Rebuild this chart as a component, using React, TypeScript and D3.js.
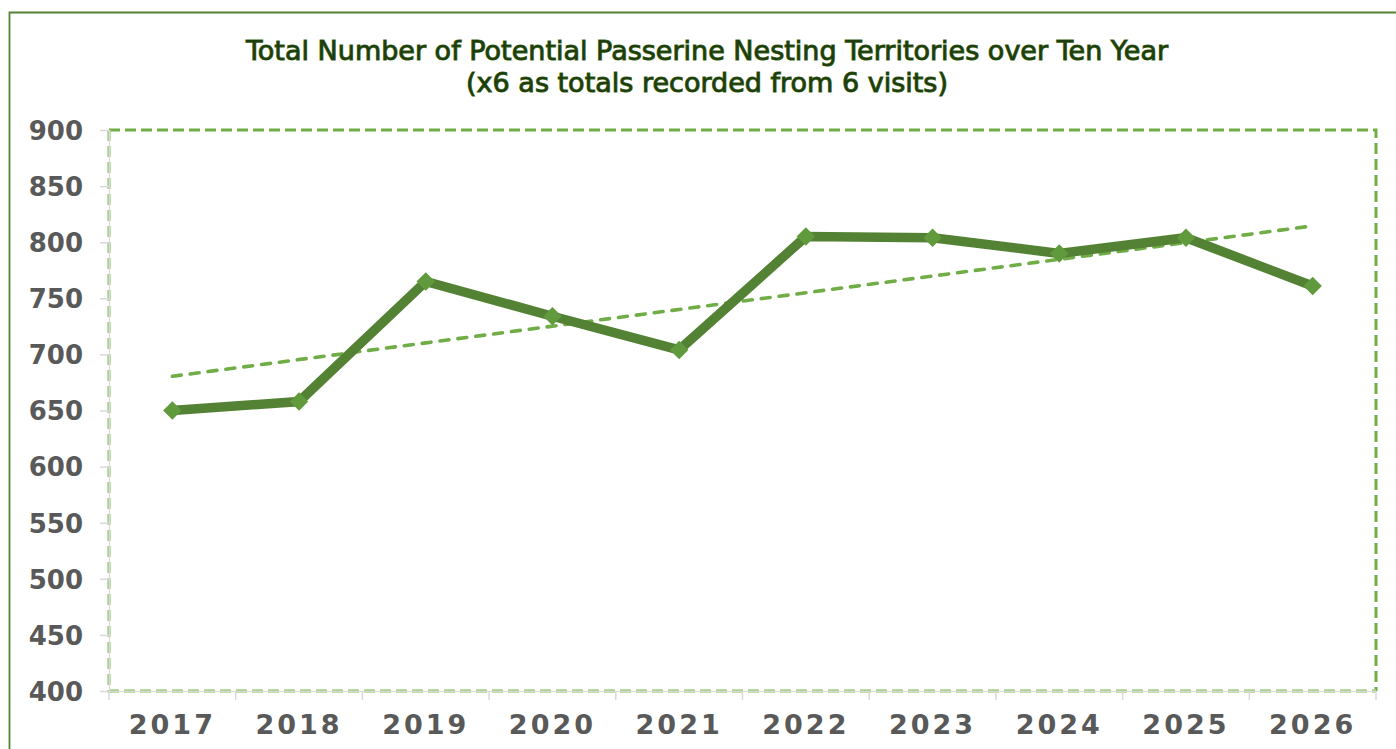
import { useEffect, useRef } from 'react';
import * as d3 from 'd3';

// years along the bottom
const years = ['2017', '2018', '2019', '2020', '2021', '2022', '2023', '2024', '2025', '2026'];
// territories (x6)
const territories = [650, 658, 765, 734, 704, 805, 804, 790, 804, 761];
const yTicks = [400, 450, 500, 550, 600, 650, 700, 750, 800, 850, 900];
const titleLines = [
  'Total Number of Potential Passerine Nesting Territories over Ten Year',
  '(x6 as totals recorded from 6 visits)',
];

const W = 1396;
const H = 749;
const plot = { left: 109, right: 1376, top: 130, bottom: 691 };

const App = () => {
  const ref = useRef<SVGSVGElement>(null);

  useEffect(() => {
    const svg = d3.select(ref.current);
    svg.selectAll('*').remove();

    const x = d3.scaleBand().domain(years).range([plot.left, plot.right]);
    const y = d3.scaleLinear().domain([400, 900]).range([plot.bottom, plot.top]);
    const cx = (d: string) => (x(d) as number) + x.bandwidth() / 2;

    // outer chart border (cut off at the right / bottom)
    svg
      .append('path')
      .attr('d', `M9.5,${H + 5} V12.5 H${W + 5}`)
      .attr('fill', 'none')
      .attr('stroke', '#548235')
      .attr('stroke-width', 1.8);

    // title
    const title = svg
      .append('text')
      .attr('text-anchor', 'middle')
      .style('font-family', '"DejaVu Sans", Verdana, sans-serif')
      .style('font-size', '27px')
      .attr('fill', '#1e3d0c')
      .attr('stroke', '#3f6b22')
      .attr('stroke-width', 1.1)
      .attr('paint-order', 'stroke');
    titleLines.forEach((t, i) => {
      title
        .append('tspan')
        .attr('x', 707)
        .attr('y', 60 + i * 32)
        .text(t);
    });

    // plot area dashed frame, top and right
    svg
      .append('path')
      .attr('d', `M${plot.left},${plot.top} H${plot.right} V${plot.bottom}`)
      .attr('fill', 'none')
      .attr('stroke', '#70ad47')
      .attr('stroke-width', 3)
      .attr('stroke-dasharray', '11 5');
    // left and bottom, lighter under the axis lines
    svg
      .append('path')
      .attr('d', `M${plot.left},${plot.top} V${plot.bottom} H${plot.right}`)
      .attr('fill', 'none')
      .attr('stroke', '#a9d18e')
      .attr('stroke-width', 3.5)
      .attr('stroke-dasharray', '11 5');

    // y axis
    const yAxis = svg
      .append('g')
      .attr('transform', `translate(${plot.left},0)`)
      .call(d3.axisLeft(y).tickValues(yTicks).tickSize(9).tickPadding(17).tickFormat(d3.format('d')));
    yAxis.select('.domain').attr('stroke', '#d9d9d9').attr('stroke-width', 1.2);
    yAxis.selectAll('.tick line').attr('stroke', '#d9d9d9').attr('stroke-width', 1.5);
    yAxis
      .selectAll('.tick text')
      .attr('fill', '#595959')
      .attr('dy', '0.36em')
      .style('font-family', '"DejaVu Sans", Verdana, sans-serif')
      .style('font-size', '26px')
      .style('font-weight', 'bold');

    // x axis
    const xAxis = svg
      .append('g')
      .attr('transform', `translate(0,${plot.bottom})`)
      .call(d3.axisBottom(x).tickSize(0).tickPadding(24));
    xAxis.select('.domain').attr('stroke', '#d9d9d9').attr('stroke-width', 1.2);
    xAxis
      .selectAll('.tick text')
      .attr('fill', '#595959')
      .attr('dy', '0.71em')
      .attr('y', 24)
      .style('font-family', '"DejaVu Sans", Verdana, sans-serif')
      .style('font-size', '27px')
      .style('font-weight', 'bold')
      .style('letter-spacing', '3px');
    // tick marks between the categories
    xAxis
      .selectAll('.bound')
      .data([...years.map((d) => x(d) as number), plot.right])
      .join('line')
      .attr('x1', (d) => d)
      .attr('x2', (d) => d)
      .attr('y1', 0)
      .attr('y2', 9)
      .attr('stroke', '#d9d9d9')
      .attr('stroke-width', 1.5);

    // linear trend
    const xs = years.map((_, i) => i);
    const mx = d3.mean(xs) as number;
    const my = d3.mean(territories) as number;
    const slope =
      (d3.sum(xs, (v, i) => (v - mx) * (territories[i] - my)) as number) /
      (d3.sum(xs, (v) => (v - mx) ** 2) as number);
    const fit = (i: number) => my + slope * (i - mx);
    svg
      .append('line')
      .attr('x1', cx(years[0]))
      .attr('y1', y(fit(0)))
      .attr('x2', cx(years[years.length - 1]))
      .attr('y2', y(fit(years.length - 1)))
      .attr('stroke', '#70ad47')
      .attr('stroke-width', 3.6)
      .attr('stroke-linecap', 'round')
      .attr('stroke-dasharray', '9 9');

    // series line
    const line = d3
      .line<number>()
      .x((_, i) => cx(years[i]))
      .y((d) => y(d));
    svg
      .append('path')
      .datum(territories)
      .attr('d', line)
      .attr('fill', 'none')
      .attr('stroke', '#548235')
      .attr('stroke-width', 9.5)
      .attr('stroke-linejoin', 'miter');

    // diamond markers
    svg
      .selectAll('.marker')
      .data(territories)
      .join('path')
      .attr('d', d3.symbol(d3.symbolSquare, 170))
      .attr('transform', (d, i) => `translate(${cx(years[i])},${y(d)}) rotate(45)`)
      .attr('fill', '#609a3c');
  }, []);

  return (
    <svg
      ref={ref}
      width={W}
      height={H}
      style={{ position: 'absolute', left: 0, top: 0, background: '#fff' }}
    />
  );
};

export default App;
